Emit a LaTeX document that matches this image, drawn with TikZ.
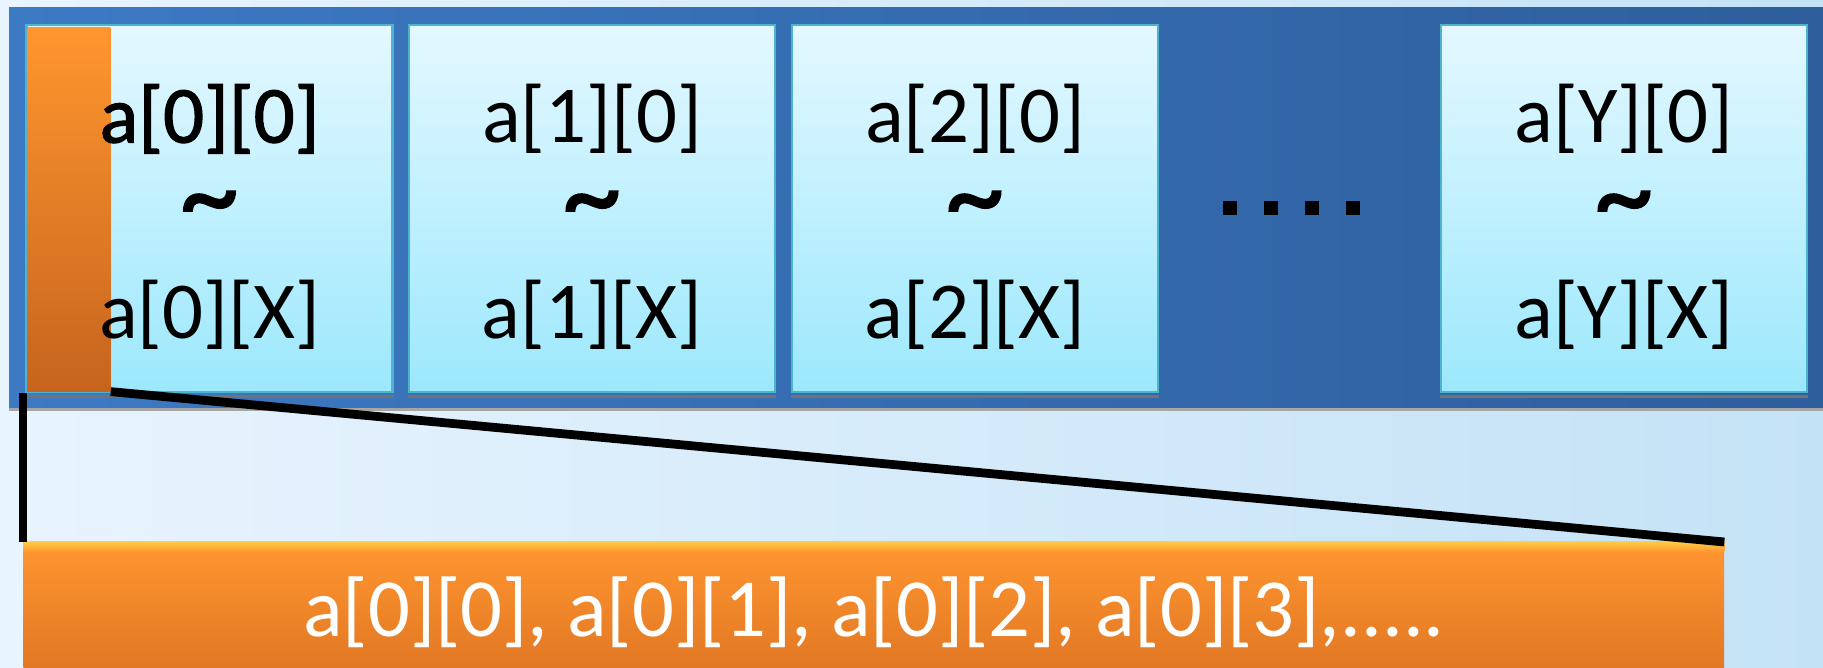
\documentclass[tikz,border=0pt]{standalone}
\usepackage{fontspec}
\setmainfont{Carlito}
\newfontfamily\thickfont{Carlito}[FakeBold=1.5]

\definecolor{bgleft}{RGB}{232,244,254}
\definecolor{bgmid}{RGB}{244,250,255}
\definecolor{bgright}{RGB}{196,226,246}
\definecolor{frameleft}{RGB}{60,122,196}
\definecolor{frameright}{RGB}{46,94,156}
\definecolor{celltop}{RGB}{228,248,255}
\definecolor{cellbot}{RGB}{156,232,252}
\definecolor{cellline}{RGB}{76,180,206}
\definecolor{striptop}{RGB}{255,150,46}
\definecolor{stripbot}{RGB}{198,100,30}
\definecolor{barmain}{RGB}{255,150,48}
\definecolor{bardark}{RGB}{222,116,34}
\definecolor{baryellow}{RGB}{255,200,70}

\tikzset{
  cell/.style={draw=cellline, line width=1.2pt, top color=celltop, bottom color=cellbot,
    minimum width=7.32cm, minimum height=7.34cm, inner sep=0pt},
  celltext/.style={align=center, inner sep=0pt, font=\fontsize{46}{46.5}\selectfont},
  rowstrip/.style={top color=striptop, bottom color=stripbot, draw=none,
    minimum width=1.66cm, minimum height=7.28cm, inner sep=0pt},
  rowbar/.style={top color=barmain, bottom color=bardark, draw=none, text=white,
    minimum width=34.02cm, minimum height=2.8cm, inner sep=0pt,
    font=\fontsize{47}{47}\selectfont},
  zoomline/.style={draw=black, line width=5pt},
}
\newcommand\wave{\raisebox{-5.4pt}[0pt][0pt]{\scalebox{1.45}{\thickfont\textasciitilde}}}

\begin{document}
\begin{tikzpicture}[x=0.02cm,y=-0.02cm]
  \useasboundingbox (0,0) rectangle (1823,668);

  % background and the outer (blue) array
  \shade[left color=bgleft, middle color=bgmid, right color=bgright] (0,0) rectangle (1823,668);
  \shade[left color=frameleft, right color=frameright] (9,8) rectangle (1823,408);
  \draw[gray!70, line width=0.06cm] (9,410) -- (1823,410);

  % one cell per row a[i]
  \foreach \x/\i in {209.5/0, 592/1, 975/2, 1624/3} {
    \node[cell] (c\i) at (\x,208.5) {};
    \draw[black!55, line width=0.06cm] ([yshift=-0.06cm]c\i.south west) -- ([yshift=-0.06cm]c\i.south east);
  }

  % first element of row 0
  \node[rowstrip, anchor=north west] (strip) at (27,27) {};

  % labels (on top of the strip)
  \node[celltext] (l0) at ([yshift=-0.17cm]c0.center)
    {\thickfont a[0][0]\\\wave\\[18.7pt]a[0][X]};
  \foreach \i/\n in {1/1, 2/2, 3/Y} {
    \node[celltext] (l\i) at ([yshift=-0.17cm]c\i.center)
      {a[\n][0]\\\wave\\[18.7pt]a[\n][X]};
  }

  % dots between a[2] and a[Y]
  \foreach \d in {0,...,3} {
    \fill[black] (1223+41*\d,201) rectangle ++(14,14);
  }

  % row 0 laid out in memory
  \node[rowbar, anchor=north west] (row) at (23,542)
    {a[0][0], a[0][1], a[0][2], a[0][3],.....};
  \shade[top color=baryellow, bottom color=barmain] (row.north west) rectangle ([yshift=-0.2cm]row.north east);

  % zoom lines
  \draw[zoomline] (row.north west |- c0.south) -- (row.north west);
  \draw[zoomline] (strip.south east) -- (row.north east);

\end{tikzpicture}
\end{document}
